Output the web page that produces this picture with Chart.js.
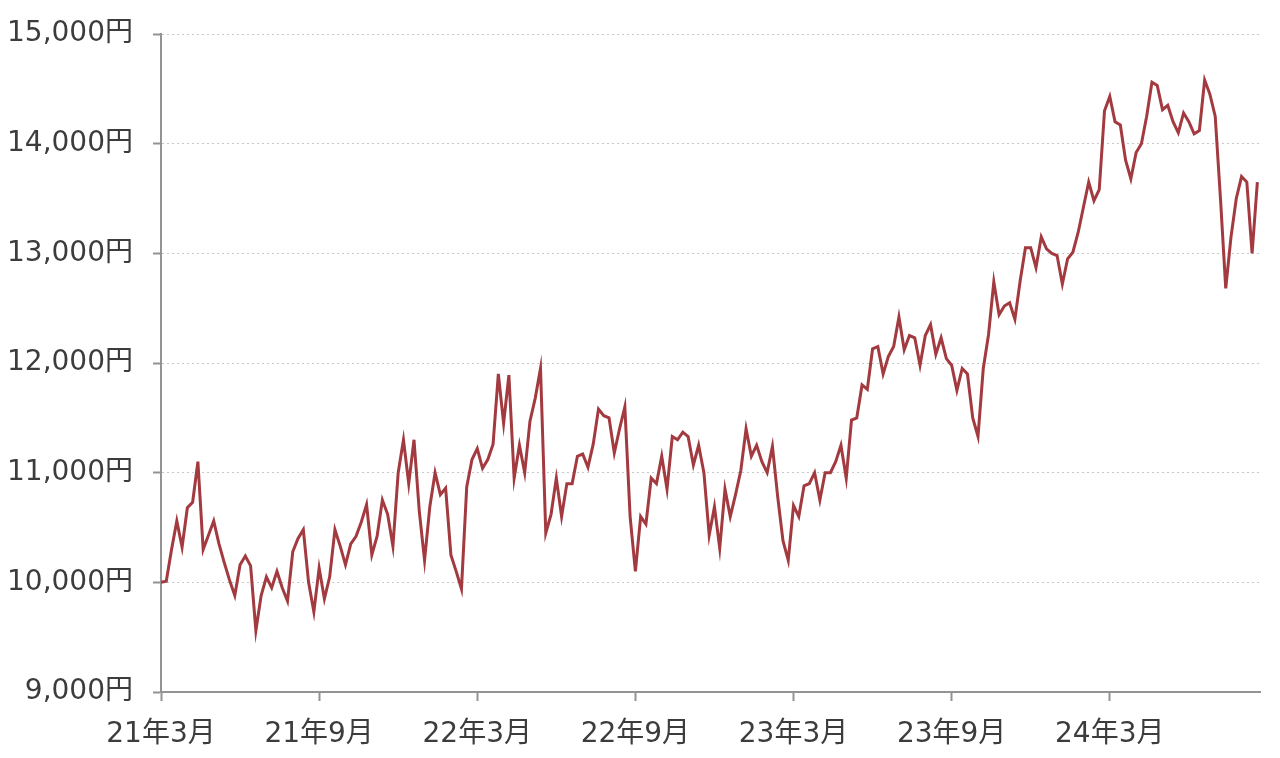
<!DOCTYPE html>
<html lang="ja">
<head>
<meta charset="utf-8">
<script src="https://cdn.jsdelivr.net/npm/chart.js@4"></script>
<style>
  html, body { margin: 0; padding: 0; background: #fff; }
  #wrap { width: 1280px; height: 758px; position: relative; }
</style>
</head>
<body>
<div id="wrap"><canvas id="priceChart"></canvas></div>
<script>
// 月ごとの軸ラベル (6か月おき)
const monthLabels = ['21年3月', '21年9月', '22年3月', '22年9月', '23年3月', '23年9月', '24年3月'];
// 1サンプル = 1/5か月 (約6日) 、21年3月始まり
const sampleStep = 0.2;
const prices = [
  10000, 10010, 10300, 10560, 10320, 10680, 10730, 11100, 10300, 10430,
  10560, 10350, 10180, 10020, 9880, 10160, 10240, 10150, 9560, 9880,
  10050, 9950, 10100, 9950, 9830, 10280, 10400, 10480, 10000, 9730,
  10130, 9850, 10050, 10480, 10330, 10160, 10350, 10420, 10550, 10710,
  10250, 10420, 10750, 10620, 10330, 11000, 11300, 10900, 11300, 10650,
  10200, 10690, 11000, 10800, 10860, 10250, 10100, 9940, 10870, 11120,
  11220, 11040, 11120, 11260, 11900, 11450, 11890, 10950, 11250, 11000,
  11470, 11680, 11950, 10450, 10620, 10950, 10600, 10900, 10900, 11150,
  11170, 11050, 11260, 11580, 11520, 11500, 11180, 11400, 11600, 10600,
  10100, 10600, 10530, 10950, 10900, 11150, 10850, 11330, 11300, 11370,
  11330, 11070, 11250, 11000, 10430, 10690, 10310, 10850, 10600, 10800,
  11020, 11400, 11150, 11250, 11100, 11000, 11240, 10780, 10380, 10200,
  10700, 10600, 10880, 10900, 11000, 10750, 11000, 11000, 11100, 11250,
  10950, 11480, 11500, 11800, 11760, 12130, 12150, 11900, 12060, 12150,
  12420, 12120, 12250, 12230, 11980, 12250, 12350, 12080, 12230, 12040,
  11980, 11750, 11950, 11900, 11500, 11330, 11950, 12260, 12740, 12440,
  12520, 12550, 12400, 12750, 13050, 13050, 12870, 13150, 13040, 13000,
  12980, 12720, 12950, 13010, 13190, 13420, 13650, 13480, 13580, 14300,
  14430, 14200, 14170, 13850, 13680, 13920, 14000, 14250, 14560, 14530,
  14310, 14350, 14200, 14100, 14280, 14200, 14090, 14120, 14580, 14450,
  14250, 13500, 12680, 13150, 13500, 13700, 13650, 13000, 13650
];

const points = prices.map((p, i) => ({ x: i * sampleStep, y: p }));

const axisGray = '#939393';
const textColor = '#3c3c3c';
const fontFamily = "'DejaVu Sans', 'Noto Sans CJK JP', sans-serif";

const ctx = document.getElementById('priceChart').getContext('2d');
new Chart(ctx, {
  type: 'line',
  data: {
    datasets: [{
      data: points,
      borderColor: '#a23a40',
      borderWidth: 3,
      pointRadius: 0,
      tension: 0,
      fill: false
    }]
  },
  options: {
    responsive: true,
    maintainAspectRatio: false,
    animation: false,
    layout: { padding: { top: 30, right: 20, left: 0, bottom: 0 } },
    plugins: {
      legend: { display: false },
      tooltip: { enabled: false }
    },
    scales: {
      x: {
        type: 'linear',
        min: 0,
        max: 41.7,
        grid: {
          drawOnChartArea: false,
          drawTicks: true,
          tickLength: 9,
          tickColor: axisGray,
          tickWidth: 2
        },
        border: { display: true, color: axisGray, width: 2 },
        ticks: {
          stepSize: 6,
          includeBounds: false,
          autoSkip: false,
          maxRotation: 0,
          padding: 17,
          color: textColor,
          font: { family: fontFamily, size: 28 },
          callback: v => monthLabels[Math.round(v / 6)] ?? ''
        },
        afterFit: scale => { scale.height = 66; }
      },
      y: {
        min: 9000,
        max: 15000,
        grid: {
          color: '#c8c8c8',
          lineWidth: 1,
          drawTicks: true,
          tickLength: 8,
          tickColor: axisGray,
          tickWidth: 2,
          tickBorderDash: []
        },
        border: { display: true, color: axisGray, width: 2, dash: [2, 3] },
        ticks: {
          stepSize: 1000,
          padding: 20,
          color: textColor,
          font: { family: fontFamily, size: 28, lineHeight: 1 },
          callback: v => v.toLocaleString('ja-JP') + '円'
        },
        afterFit: scale => { scale.width = 161; }
      }
    }
  }
});
</script>
</body>
</html>
